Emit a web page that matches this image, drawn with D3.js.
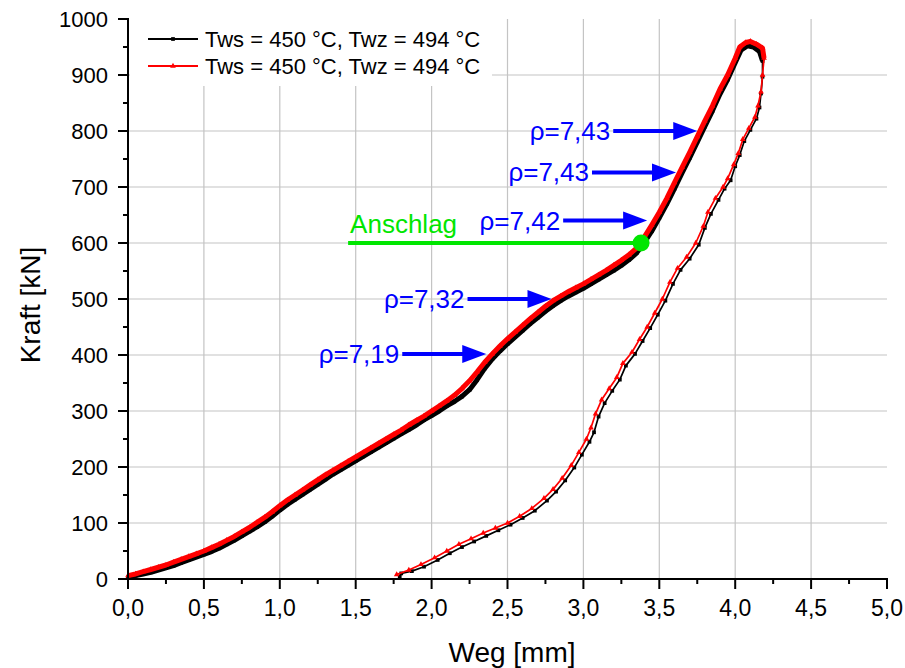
<!DOCTYPE html>
<html>
<head>
<meta charset="utf-8">
<script src="https://cdn.jsdelivr.net/npm/d3@7"></script>
<style>
  html, body { margin: 0; padding: 0; background: #fff; }
  svg { display: block; font-family: "Liberation Sans", Arial, sans-serif; }
</style>
</head>
<body>
<svg id="chart" width="905" height="668"></svg>
<script>
// Weg [mm], Kraft [kN] – loading branch followed by unloading branch
const wegRed = [
  0.00,0.05,0.10,0.15,0.20,0.25,0.30,0.35,0.40,0.45,0.50,0.55,0.60,0.65,0.70,0.75,0.80,0.85,0.90,0.95,
  1.00,1.05,1.10,1.15,1.20,1.25,1.30,1.35,1.40,1.45,1.50,1.55,1.60,1.65,1.70,1.75,1.80,1.85,1.90,1.95,
  2.00,2.05,2.10,2.15,2.20,2.25,2.30,2.35,2.40,2.45,2.50,2.55,2.60,2.65,2.70,2.75,2.80,2.85,2.90,2.95,
  3.00,3.05,3.10,3.15,3.20,3.25,3.30,3.35,3.38,3.40,3.45,3.50,3.55,3.60,3.65,3.70,3.75,3.80,3.85,3.90,
  3.95,4.00,4.03,4.07,4.10,4.14,4.18,4.19,
  4.18,4.17,4.15,4.13,4.09,4.05,4.02,3.99,3.95,3.92,3.87,3.82,3.79,3.74,3.68,3.62,3.57,3.52,3.47,3.42,
  3.37,3.32,3.26,3.22,3.17,3.12,3.08,3.05,3.02,2.97,2.92,2.86,2.80,2.74,2.66,2.58,2.50,2.42,2.34,2.26,
  2.18,2.10,2.02,1.93,1.85,1.77
];
const kraftRed = [
  6,9,13,17,21,25,30,35,40,45,50,56,62,69,76,84,92,101,110,120,
  131,141,150,159,168,177,186,194,202,210,218,226,234,242,250,258,266,275,283,291,
  300,309,318,328,340,354,370,387,402,416,429,441,453,465,476,487,497,505,513,520,
  527,535,543,551,560,569,579,591,601,610,632,655,680,708,735,762,790,818,845,875,
  900,930,950,958,960,955,948,930,
  900,870,845,825,805,785,760,740,715,700,680,655,630,600,575,555,530,500,475,450,
  428,405,385,360,340,320,295,270,250,226,203,180,160,144,126,112,100,91,82,72,
  62,50,38,26,16,8
];
const wegBlack = [
  0.00,0.05,0.10,0.15,0.20,0.25,0.30,0.35,0.40,0.45,0.50,0.55,0.60,0.65,0.70,0.75,0.80,0.85,0.90,0.95,
  1.00,1.05,1.10,1.15,1.20,1.25,1.30,1.35,1.40,1.45,1.50,1.55,1.60,1.65,1.70,1.75,1.80,1.85,1.90,1.95,
  2.00,2.05,2.10,2.15,2.20,2.25,2.30,2.35,2.40,2.45,2.50,2.55,2.60,2.65,2.70,2.75,2.80,2.85,2.90,2.95,
  3.00,3.05,3.10,3.15,3.20,3.25,3.30,3.35,3.40,3.45,3.50,3.55,3.60,3.65,3.70,3.75,3.80,3.85,3.90,3.95,
  4.00,4.04,4.08,4.12,4.16,4.18,
  4.18,4.17,4.16,4.14,4.10,4.06,4.03,4.00,3.97,3.93,3.89,3.84,3.80,3.76,3.70,3.64,3.59,3.54,3.49,3.44,
  3.39,3.34,3.28,3.24,3.19,3.14,3.10,3.07,3.04,2.99,2.94,2.88,2.82,2.76,2.68,2.60,2.52,2.44,2.36,2.28,
  2.20,2.12,2.04,1.95,1.87,1.80,1.79
];
const kraftBlack = [
  3,6,9,12,16,20,24,29,34,39,44,49,55,62,69,77,85,93,102,112,
  123,133,142,151,160,169,178,187,195,203,211,219,227,235,243,251,259,267,275,284,
  292,300,309,317,326,338,356,376,393,407,420,432,444,456,467,478,488,497,505,512,
  519,527,535,543,551,560,570,582,600,621,645,670,697,725,752,780,808,836,866,892,
  922,945,952,950,942,925,
  897,867,842,822,802,782,757,737,712,697,677,652,627,597,572,552,527,497,472,448,
  425,402,381,356,336,314,290,262,245,222,199,176,156,140,122,109,97,87,77,67,
  57,46,34,22,14,10,4
];

// axis ticks
const xTicks = [0, 0.5, 1.0, 1.5, 2.0, 2.5, 3.0, 3.5, 4.0, 4.5, 5.0];
const xMinorTicks = [0.25, 0.75, 1.25, 1.75, 2.25, 2.75, 3.25, 3.75, 4.25, 4.75];
const yTicks = [0, 100, 200, 300, 400, 500, 600, 700, 800, 900, 1000];
const yMinorTicks = [50, 150, 250, 350, 450, 550, 650, 750, 850, 950];

// density annotations: label and the point on the curve each arrow points at
const rhoLabels = ["ρ=7,19", "ρ=7,32", "ρ=7,42", "ρ=7,43", "ρ=7,43"];
const rhoWeg = [2.36, 2.79, 3.42, 3.61, 3.75];
const rhoKraft = [402, 500, 640, 726, 800];

// stop point
const anschlagLabel = "Anschlag";
const anschlagWeg = 3.38;
const anschlagKraft = 600;
const anschlagLineStart = 1.45;

const seriesNames = ["Tws = 450 °C, Twz = 494 °C", "Tws = 450 °C, Twz = 494 °C"];

const svg = d3.select("#chart");
const x = d3.scaleLinear().domain([0, 5]).range([128, 887]);
const y = d3.scaleLinear().domain([0, 1000]).range([579, 19]);
const fmt = v => d3.format(".1f")(v).replace(".", ",");

// grid
const grid = svg.append("g").attr("stroke", "#c4c4c4").attr("stroke-width", 1.2);
grid.selectAll("line.v").data(xTicks.filter(v => v > 0 && v < 5)).join("line")
  .attr("x1", d => x(d)).attr("x2", d => x(d)).attr("y1", y(0)).attr("y2", y(1000));
grid.selectAll("line.h").data(yTicks.filter(v => v > 0 && v < 1000)).join("line")
  .attr("x1", x(0)).attr("x2", x(5)).attr("y1", d => y(d)).attr("y2", d => y(d));

// legend backdrop hides the grid behind it
svg.append("rect").attr("x", 130).attr("y", 18).attr("width", 362).attr("height", 68).attr("fill", "#fff");

// curves
const toPts = (xs, ys) => xs.map((v, i) => [v, ys[i]]);
const red = toPts(wegRed, kraftRed);
const black = toPts(wegBlack, kraftBlack);
const line = d3.line().x(d => x(d[0])).y(d => y(d[1]));
const peakIdx = pts => d3.maxIndex(pts, d => d[0]);

function drawSeries(pts, color, symbolType) {
  const p = peakIdx(pts);
  const load = pts.slice(0, p + 1);
  const unload = pts.slice(p);
  svg.append("path").attr("d", line(load)).attr("fill", "none")
    .attr("stroke", color).attr("stroke-width", 5).attr("stroke-linejoin", "round");
  svg.append("path").attr("d", line(unload)).attr("fill", "none")
    .attr("stroke", color).attr("stroke-width", 1.7).attr("stroke-linejoin", "round");
  const sym = d3.symbol().type(symbolType).size(14);
  svg.append("g").selectAll("path").data(pts).join("path")
    .attr("transform", d => `translate(${x(d[0])},${y(d[1])})`)
    .attr("d", sym).attr("fill", color);
}
drawSeries(black, "#000", d3.symbolSquare);
drawSeries(red, "#ff0000", d3.symbolTriangle);

// axes
const xAxis = svg.append("g").attr("transform", `translate(0,${y(0)})`);
xAxis.append("line").attr("x1", x(0) - 1).attr("x2", x(5) + 1).attr("stroke", "#000").attr("stroke-width", 2);
xAxis.selectAll("line.maj").data(xTicks).join("line")
  .attr("x1", d => x(d)).attr("x2", d => x(d)).attr("y1", 0).attr("y2", 10)
  .attr("stroke", "#000").attr("stroke-width", 2);
xAxis.selectAll("line.min").data(xMinorTicks).join("line")
  .attr("x1", d => x(d)).attr("x2", d => x(d)).attr("y1", 0).attr("y2", 5)
  .attr("stroke", "#000").attr("stroke-width", 2);
xAxis.selectAll("text").data(xTicks).join("text")
  .attr("x", d => x(d)).attr("y", 37).attr("text-anchor", "middle")
  .attr("font-family", "'Liberation Sans Narrow', 'Liberation Sans', Arial, sans-serif")
  .attr("font-size", 23).text(fmt);

const yAxis = svg.append("g").attr("transform", `translate(${x(0)},0)`);
yAxis.append("line").attr("y1", y(0) + 1).attr("y2", y(1000) - 1).attr("stroke", "#000").attr("stroke-width", 2);
yAxis.selectAll("line.maj").data(yTicks).join("line")
  .attr("y1", d => y(d)).attr("y2", d => y(d)).attr("x1", 0).attr("x2", -10)
  .attr("stroke", "#000").attr("stroke-width", 2);
yAxis.selectAll("line.min").data(yMinorTicks).join("line")
  .attr("y1", d => y(d)).attr("y2", d => y(d)).attr("x1", 0).attr("x2", -5)
  .attr("stroke", "#000").attr("stroke-width", 2);
yAxis.selectAll("text").data(yTicks).join("text")
  .attr("x", -20).attr("y", d => y(d) + 8).attr("text-anchor", "end")
  .attr("font-size", 22).text(d => d);

// axis titles
svg.append("text").attr("x", 512).attr("y", 662).attr("text-anchor", "middle")
  .attr("font-size", 28).text("Weg [mm]");
svg.append("text").attr("transform", "translate(40,305) rotate(-90)").attr("text-anchor", "middle")
  .attr("font-size", 28).text("Kraft [kN]");

// legend
const legend = svg.append("g");
const legendColors = ["#000", "#ff0000"];
const legendSymbols = [d3.symbolSquare, d3.symbolTriangle];
seriesNames.forEach((name, i) => {
  const ly = 39 + i * 27;
  legend.append("line").attr("x1", 148).attr("x2", 198).attr("y1", ly).attr("y2", ly)
    .attr("stroke", legendColors[i]).attr("stroke-width", 2);
  legend.append("path").attr("transform", `translate(173,${ly})`)
    .attr("d", d3.symbol().type(legendSymbols[i]).size(14)).attr("fill", legendColors[i]);
  legend.append("text").attr("x", 205).attr("y", ly + 8).attr("font-size", 22).text(name);
});

// density arrows
const blue = "#0000ff";
const ann = svg.append("g");
rhoLabels.forEach((label, i) => {
  const tx = x(rhoWeg[i]), ty = y(rhoKraft[i]);
  const x0 = tx - 84;
  ann.append("line").attr("x1", x0).attr("x2", tx - 20).attr("y1", ty).attr("y2", ty)
    .attr("stroke", blue).attr("stroke-width", 4);
  ann.append("path")
    .attr("d", `M${tx},${ty} L${tx - 24},${ty - 9} L${tx - 24},${ty + 9} Z`).attr("fill", blue);
  ann.append("text").attr("x", x0 - 3).attr("y", ty + 9).attr("text-anchor", "end")
    .attr("font-size", 26).attr("fill", blue).text(label);
});

// stop marker
const green = "#00e600";
svg.append("line").attr("x1", x(anschlagLineStart)).attr("x2", x(anschlagWeg))
  .attr("y1", y(anschlagKraft)).attr("y2", y(anschlagKraft))
  .attr("stroke", green).attr("stroke-width", 4);
svg.append("circle").attr("cx", x(anschlagWeg)).attr("cy", y(anschlagKraft)).attr("r", 8.5).attr("fill", green);
svg.append("text").attr("x", x(anschlagLineStart) + 2).attr("y", y(anschlagKraft) - 10)
  .attr("font-size", 26).attr("fill", green).text(anschlagLabel);
</script>
</body>
</html>
